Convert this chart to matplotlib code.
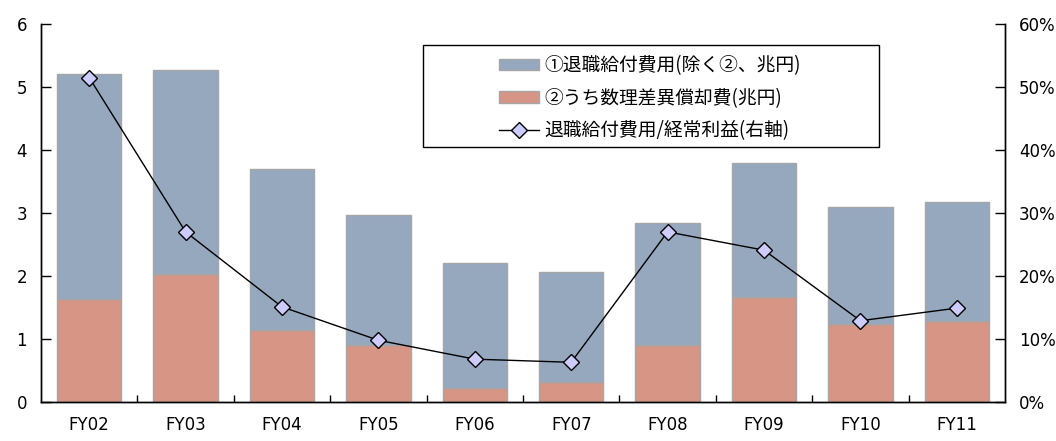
import matplotlib
matplotlib.use("Agg")
import matplotlib.pyplot as plt
from matplotlib.patches import Patch, Rectangle
from matplotlib.lines import Line2D
from matplotlib.ticker import FuncFormatter
import numpy as np

plt.rcParams['font.family'] = ['Noto Sans CJK JP', 'DejaVu Sans']

# data
years = ["FY02", "FY03", "FY04", "FY05", "FY06", "FY07", "FY08", "FY09", "FY10", "FY11"]
total_cost = [5.20, 5.27, 3.70, 2.97, 2.20, 2.06, 2.84, 3.79, 3.10, 3.17]   # bar top (兆円)
amortization = [1.64, 2.03, 1.15, 0.90, 0.22, 0.32, 0.90, 1.66, 1.24, 1.28]  # ② (兆円)
ratio = [51.5, 27.0, 15.1, 9.8, 6.8, 6.3, 27.0, 24.1, 12.9, 14.9]            # 右軸 %

other_cost = [t - a for t, a in zip(total_cost, amortization)]  # ① 除く②

c_blue = "#95a8be"
c_red = "#d69585"
c_edge = "#a6a6a6"

fig = plt.figure(figsize=(10.56, 4.41), dpi=100)
ax = fig.add_axes([41/1056, 1 - 402/441, (1005 - 41)/1056, (402 - 24)/441])
ax2 = ax.twinx()

x = np.arange(len(years))
w = 0.67
ax.bar(x, amortization, w, color=c_red, edgecolor=c_edge, linewidth=1, zorder=2)
ax.bar(x, other_cost, w, bottom=amortization, color=c_blue, edgecolor=c_edge, linewidth=1, zorder=2)

ax2.plot(x, ratio, color="black", lw=1, marker="D", markersize=8,
         markerfacecolor="#ccccff", markeredgecolor="black", markeredgewidth=1, zorder=3)

ax.set_xlim(-0.5, len(years) - 0.5)
ax.set_ylim(0, 6)
ax2.set_ylim(0, 60)
ax.set_yticks(range(0, 7))
ax2.set_yticks(range(0, 61, 10))
ax2.yaxis.set_major_formatter(FuncFormatter(lambda v, p: f"{int(v)}%"))

ax.set_xticks(x)
ax.set_xticklabels(years)
ax.set_xticks(x[:-1] + 0.5, minor=True)
ax.tick_params(axis='x', which='major', length=0, pad=10)
ax.tick_params(axis='x', which='minor', direction='in', length=5, width=1)
ax.tick_params(axis='y', direction='in', length=7, width=1, pad=10)
ax2.tick_params(axis='y', direction='in', length=7, width=1, pad=10)
for lab in ax.get_xticklabels() + ax.get_yticklabels() + ax2.get_yticklabels():
    lab.set_family('DejaVu Sans')
    lab.set_fontsize(12)

for a in (ax, ax2):
    a.spines['top'].set_visible(False)
    for s in ('left', 'right', 'bottom'):
        a.spines[s].set_linewidth(1)
ax.set_zorder(ax2.get_zorder() - 1)
ax2.patch.set_visible(False)
ax.patch.set_visible(False)

# legend with a wide frame, as in the original
fig.patches.append(Rectangle((423/1056, 1 - 147/441), (879 - 423)/1056, (147 - 45)/441,
                             transform=fig.transFigure, fill=False, edgecolor="black",
                             linewidth=1, zorder=5))
handles = [
    Patch(facecolor=c_blue, edgecolor=c_edge, label="①退職給付費用(除く②、兆円)"),
    Patch(facecolor=c_red, edgecolor=c_edge, label="②うち数理差異償却費(兆円)"),
    Line2D([], [], color="black", lw=1, marker="D", markersize=8,
           markerfacecolor="#ccccff", markeredgecolor="black", label="退職給付費用/経常利益(右軸)"),
]
fig.legend(handles=handles, loc="upper left", bbox_to_anchor=(490/1056, 1 - 46/441),
           frameon=False, fontsize=13.5, handlelength=2.1, handleheight=0.55,
           handletextpad=0.3, labelspacing=0.6, borderpad=0)

fig.savefig("out.png", dpi=100)
